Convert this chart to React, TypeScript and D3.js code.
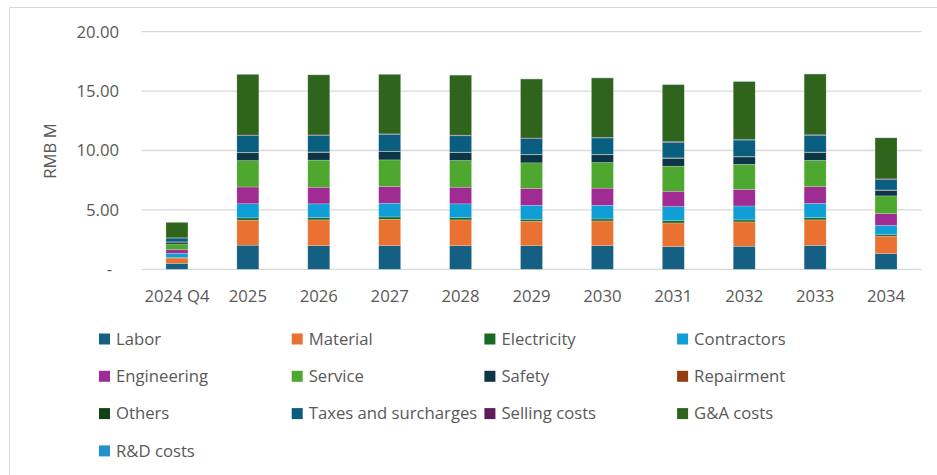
import React from "react";
import * as d3 from "d3";

const categories = ["2024 Q4", "2025", "2026", "2027", "2028", "2029", "2030", "2031", "2032", "2033", "2034"];

const labor = [0.5, 2.03, 1.99, 1.99, 1.99, 1.99, 1.99, 1.91, 1.94, 2.01, 1.32];
const material = [0.45, 2.11, 2.17, 2.22, 2.17, 2.05, 2.08, 1.99, 2.05, 2.15, 1.47];
const electricity = [0.04, 0.19, 0.19, 0.2, 0.19, 0.17, 0.17, 0.2, 0.17, 0.19, 0.15];
const contractors = [0.36, 1.19, 1.16, 1.15, 1.16, 1.18, 1.15, 1.18, 1.17, 1.19, 0.76];
const engineering = [0.3, 1.41, 1.4, 1.41, 1.4, 1.41, 1.44, 1.29, 1.4, 1.41, 0.98];
const service = [0.48, 2.22, 2.28, 2.24, 2.25, 2.16, 2.16, 2.11, 2.11, 2.22, 1.5];
const safety = [0.16, 0.66, 0.65, 0.69, 0.66, 0.68, 0.65, 0.66, 0.62, 0.66, 0.46];
const repairment = [0.01, 0.02, 0.02, 0.02, 0.02, 0.02, 0.02, 0.02, 0.02, 0.02, 0.02];
const others = [0.01, 0.02, 0.02, 0.02, 0.02, 0.02, 0.02, 0.02, 0.02, 0.02, 0.02];
const taxes = [0.32, 1.4, 1.38, 1.41, 1.38, 1.32, 1.38, 1.31, 1.38, 1.4, 0.88];
const selling = [0.02, 0.05, 0.05, 0.05, 0.05, 0.05, 0.05, 0.05, 0.05, 0.05, 0.05];
const gna = [1.3, 5.12, 5.06, 5.02, 5.06, 4.97, 5.0, 4.81, 4.88, 5.12, 3.46];
const rnd = [0.0, 0.01, 0.01, 0.01, 0.01, 0.01, 0.01, 0.01, 0.01, 0.01, 0.01];

const seriesNames = [
  "Labor", "Material", "Electricity", "Contractors", "Engineering", "Service",
  "Safety", "Repairment", "Others", "Taxes and surcharges", "Selling costs", "G&A costs", "R&D costs",
];
const seriesValues = [labor, material, electricity, contractors, engineering, service, safety, repairment, others, taxes, selling, gna, rnd];
const seriesColors = [
  "#156082", "#E97132", "#196B24", "#0F9ED5", "#A02B93", "#4EA72E",
  "#0C3547", "#933D0F", "#0F4016", "#095E7F", "#601A58", "#2F641C", "#2391CA",
];

const yTicks = [0, 5, 10, 15, 20];

const W = 937;
const H = 475;
const FONT = "'Open Sans', 'Liberation Sans', sans-serif";
const TXT = "#595959";
const FS = 16.7;

export default function App() {
  const x = d3.scaleBand<string>().domain(categories).range([141.5, 921.5]).padding(0);
  const y = d3.scaleLinear().domain([0, 20]).range([269.3, 31.7]);
  const barW = x.bandwidth() * 0.31;

  const table = categories.map((c, i) => {
    const row: any = { cat: c };
    seriesNames.forEach((n, k) => (row[n] = seriesValues[k][i]));
    return row;
  });
  const stacked = d3.stack<any>().keys(seriesNames)(table);

  const fmt = (v: number) => (v === 0 ? "-" : d3.format(".2f")(v));

  return (
    <svg width={W} height={H} style={{ position: "absolute", left: 0, top: 0, background: "#fff" }} fontFamily={FONT}>
      <rect x={0} y={0} width={W} height={H} fill="#fff" />
      <rect x={9.5} y={7.5} width={W + 20} height={H + 20} fill="none" stroke="#d9d9d9" strokeWidth={1} />
      {yTicks.map((t) => (
        <line key={t} x1={141.5} x2={921.5} y1={y(t)} y2={y(t)} stroke="#d9d9d9" strokeWidth={1.3} />
      ))}
      {yTicks.map((t) => (
        <text key={"l" + t} x={t === 0 ? 112 : 119} y={y(t)} dy="0.35em" textAnchor="end" fontSize={FS} fill={TXT}>
          {fmt(t)}
        </text>
      ))}
      <text transform={`translate(56,151) rotate(-90)`} textAnchor="middle" fontSize={FS} fill={TXT}>
        RMB M
      </text>
      {stacked.map((s, k) => (
        <g key={seriesNames[k]} fill={seriesColors[k]}>
          {s.map((d, i) => (
            <rect
              key={i}
              x={(x(categories[i]) as number) + (x.bandwidth() - barW) / 2}
              y={y(d[1])}
              width={barW}
              height={Math.max(0, y(d[0]) - y(d[1]))}
              stroke="#ffffff"
              strokeOpacity={0.35}
              strokeWidth={0.6}
            />
          ))}
        </g>
      ))}
      {categories.map((c) => (
        <text key={c} x={(x(c) as number) + x.bandwidth() / 2} y={302} textAnchor="middle" fontSize={FS} fill={TXT}>
          {c}
        </text>
      ))}
      {seriesNames.map((n, k) => {
        const col = k % 4;
        const row = Math.floor(k / 4);
        const lx = 99 + col * 192.7;
        const ly = 339 + row * 37.3;
        return (
          <g key={"lg" + n}>
            <rect x={lx} y={ly - 5.5} width={11} height={11} fill={seriesColors[k]} />
            <text x={lx + 17} y={ly} dy="0.35em" fontSize={FS} fill={TXT}>
              {n}
            </text>
          </g>
        );
      })}
    </svg>
  );
}
